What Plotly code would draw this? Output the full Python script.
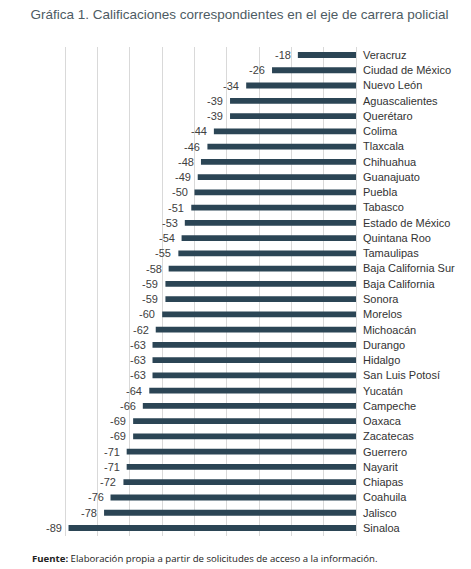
import plotly.graph_objects as go

# datos de la grafica
estados = ['Veracruz', 'Ciudad de México', 'Nuevo León', 'Aguascalientes', 'Querétaro',
           'Colima', 'Tlaxcala', 'Chihuahua', 'Guanajuato', 'Puebla', 'Tabasco',
           'Estado de México', 'Quintana Roo', 'Tamaulipas', 'Baja California Sur',
           'Baja California', 'Sonora', 'Morelos', 'Michoacán', 'Durango', 'Hidalgo',
           'San Luis Potosí', 'Yucatán', 'Campeche', 'Oaxaca', 'Zacatecas', 'Guerrero',
           'Nayarit', 'Chiapas', 'Coahuila', 'Jalisco', 'Sinaloa']
calificaciones = [-18, -26, -34, -39, -39, -44, -46, -48, -49, -50, -51, -53, -54, -55, -58,
                  -59, -59, -60, -62, -63, -63, -63, -64, -66, -69, -69, -71, -71, -72,
                  -76, -78, -89]

titulo = 'Gráfica 1. Calificaciones correspondientes en el eje de carrera policial'
fuente = '<b>Fuente:</b> Elaboración propia a partir de solicitudes de acceso a la información.'

barColor = '#2b4555'

fig = go.Figure()
fig.add_trace(go.Bar(
    x=calificaciones, y=estados, orientation='h',
    marker=dict(color=barColor, line=dict(width=0)),
    width=0.38,
    hoverinfo='skip',
))

# etiquetas de valor a la izquierda de cada barra
for est, v in zip(estados, calificaciones):
    fig.add_annotation(x=v, y=est, text=str(v), xanchor='right', xshift=-5,
                       showarrow=False,
                       font=dict(family='Liberation Sans, Arial', size=11, color='#404040'))

# la pagina tiene 8px de margen en body, por eso 463x561
fig.update_layout(
    width=463, height=561,
    margin=dict(l=25, r=115, t=39, b=33, autoexpand=False),
    paper_bgcolor='white', plot_bgcolor='white',
    showlegend=False,
    font=dict(family='Liberation Sans, Arial', size=11, color='#333333'),
    title=dict(text=titulo, x=0.5, xanchor='center', y=0.997, yanchor='top', automargin=False,
               font=dict(family='Liberation Sans, Arial', size=13.5, color='#4d5b63')),
)

fig.update_xaxes(range=[-100, 0], dtick=10, showgrid=True, gridcolor='#d9d9d9', gridwidth=1,
                 zeroline=True, zerolinecolor='#d9d9d9', zerolinewidth=1,
                 showticklabels=False, showline=False, fixedrange=True, automargin=False)
fig.update_yaxes(categoryorder='array', categoryarray=estados, autorange='reversed',
                 side='right', showgrid=False, showline=False, ticks='',
                 ticklabelstandoff=6, automargin=False,
                 tickfont=dict(family='Liberation Sans, Arial', size=11, color='#333333'))

fig.add_annotation(text=fuente, xref='paper', yref='paper', x=-0.01, y=-0.046,
                   xanchor='left', yanchor='middle', showarrow=False,
                   font=dict(family='Open Sans, Liberation Sans', size=9.6, color='#222222'))

fig.write_html('out.html')
